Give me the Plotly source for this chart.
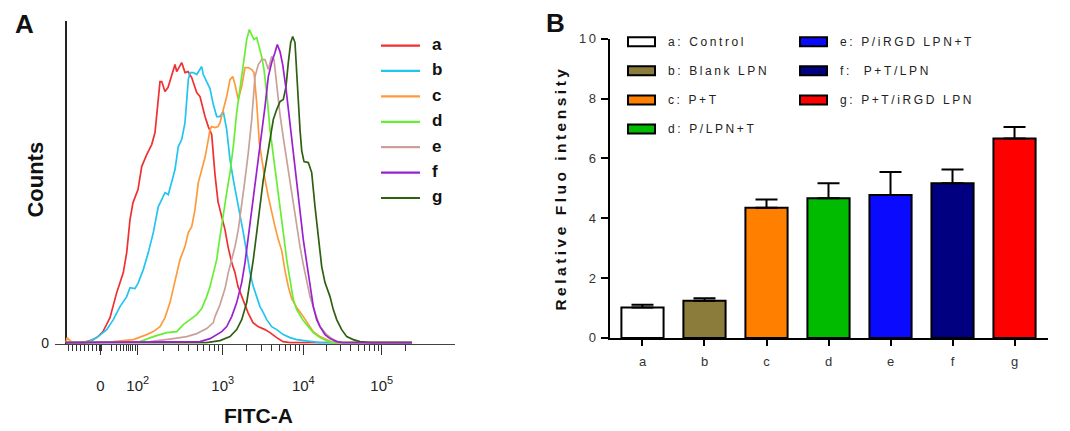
import math
import plotly.graph_objects as go

W, H = 1070, 431
# the page photograph shifts the figure 8px right and maps it a little
# squeezed vertically; these constants put things where the reference has them
OFF_X = 8
SY, OFF_Y = 0.965, 16

# ---------------- Panel A: flow cytometry histograms (x in display channels) ----------------
hist_names = ["a", "b", "c", "d", "e", "f", "g"]
hist_colors = ["#f03030", "#22c4f0", "#ff9a3c", "#66ee33", "#c9a19b", "#9a20d0", "#2f6010"]

a_x = [0, 17, 24, 27, 32, 37, 44, 50.7, 57.3, 60.7, 64, 67, 72, 75.7, 80.7, 85.7, 89, 92, 94, 95.7,
       99, 102, 105.7, 109, 110.7, 114, 115.7, 119, 122, 125.7, 130.7, 134, 139, 142.3, 145.7, 149,
       152, 155.7, 159, 162, 165.7, 169, 172, 177, 182, 187, 192, 199, 204, 210.7, 217, 224, 346]
a_y = [0, 0, 2, 3, 6, 11, 25, 50, 70, 90, 123, 140, 153, 176, 188, 198, 210, 243, 261, 261,
       251, 255, 268, 278, 271, 278, 280, 270, 271, 265, 250, 246, 226, 216, 208, 168,
       141, 126, 113, 96, 80, 70, 56, 43, 30, 20, 16, 13, 10, 5, 1, 0, 0]

b_x = [0, 20.7, 30.7, 40.7, 47.3, 54, 60.7, 64, 69, 72.3, 77.3, 82.3, 87.3, 92.3, 95.7, 99, 102.3,
       105.7, 109, 112.3, 115.7, 119, 120.7, 122.3, 124, 127.3, 130.7, 134, 135.7, 137.3, 140.7, 144,
       147.3, 150.7, 154, 157.3, 160.7, 164, 167.3, 170.7, 174, 177.3, 180.7, 184, 187.3, 190.7, 194,
       197.3, 200.7, 205.7, 210.7, 217.3, 224, 230.7, 240.7, 254, 346]
b_y = [0, 0, 5, 13, 23, 36, 46, 55, 54, 60, 73, 90, 110, 136, 143, 150, 148,
       160, 173, 196, 203, 220, 246, 263, 270, 270, 268, 273, 276, 268, 261, 254,
       238, 226, 226, 231, 213, 183, 163, 146, 130, 110, 90, 70, 56, 46, 36,
       30, 23, 16, 13, 8, 5, 3, 2, 0, 0]

c_x = [0, 1, 4, 7, 47, 67.3, 80.7, 87.3, 94, 99, 104, 109, 114, 119, 122.3, 125.7, 129, 132.3, 135.7,
       139, 142.3, 144, 145.7, 149, 152, 154, 157.3, 160.7, 164, 166.7, 169, 172.3, 175.7, 179, 182.3,
       185.7, 188, 190.7, 193.3, 195.7, 199, 202.3, 205.7, 209, 212.3, 215.7, 219, 222.3, 225.7, 230.7,
       237.3, 242.3, 247.3, 254, 260.7, 267, 346]
c_y = [0, 5, 2, 0, 1, 3, 8, 11, 16, 25, 40, 60, 83, 96, 110, 116, 133, 160, 172,
       185, 203, 213, 216, 215, 216, 220, 233, 246, 263, 266, 258, 243, 256, 275, 275,
       273, 270, 240, 200, 183, 163, 146, 130, 116, 103, 92, 72, 56, 44, 35,
       26, 18, 11, 6, 3, 0, 0]

d_x = [0, 74, 87.3, 100.7, 110.7, 117.3, 124, 130.7, 135.7, 140.7, 144, 147.3, 150.7, 154, 157.3,
       160.7, 164, 167.3, 170.7, 174, 177.3, 180.7, 183.3, 185.7, 188, 190.7, 193.3, 195.7, 198, 200.7,
       204, 207.3, 210.7, 214, 217.3, 220.7, 224, 227.3, 230.7, 234, 237.3, 242.3, 247.3, 254, 260.7,
       267, 346]
d_y = [0, 1, 6, 10, 11, 18, 23, 28, 34, 46, 56, 70, 83, 106, 130,
       150, 170, 196, 230, 256, 280, 303, 313, 308, 303, 305, 296, 286, 273, 250,
       213, 186, 163, 136, 110, 83, 63, 43, 33, 28, 22, 16, 10, 5, 2,
       0, 0]

e_x = [0, 84, 107.3, 120.7, 130.7, 140.7, 147.3, 149, 154, 159, 162.3, 165.7, 169, 172.3, 175.7, 179,
       182.3, 185.7, 189, 192.3, 195.7, 199, 202.3, 205.7, 208, 210.7, 214, 217.3, 220.7, 224, 227.3,
       230.7, 234, 237.3, 240.7, 244, 249, 254, 260.7, 267.3, 274, 346]
e_y = [0, 1, 4, 6, 9, 14, 20, 26, 38, 54, 70, 83, 96, 113, 136, 163,
       190, 223, 266, 278, 283, 283, 273, 286, 283, 256, 228, 205, 182, 160, 138,
       116, 96, 78, 63, 46, 30, 16, 8, 3, 0, 0]

f_x = [0, 134, 144, 150.7, 155.7, 160.7, 165.7, 170.7, 175.7, 179, 182.3, 185.7, 189, 192.3, 195.7,
       199, 202.3, 205.7, 209, 211.3, 214, 216.7, 220, 223.3, 227.3, 230.7, 234, 237.3, 240.7, 244,
       247.3, 250.7, 254, 259, 264, 270.7, 277, 346]
f_y = [0, 1, 4, 8, 11, 16, 26, 40, 60, 80, 106, 130, 153, 183, 210,
       236, 266, 280, 290, 298, 291, 278, 254, 226, 192, 160, 130, 103, 80, 56,
       36, 23, 16, 8, 4, 1, 0, 0]

g_x = [0, 140.7, 154, 164, 170.7, 175.7, 180.7, 184, 187.3, 190.7, 194, 197.3, 200.7, 204, 207.3,
       210.7, 214, 217.3, 220, 222.3, 224.7, 226.7, 229, 230.7, 232.3, 234, 235.7, 238, 242.3, 245.7,
       249, 252.3, 255.7, 259, 264, 267.3, 270.7, 275.7, 280.7, 287.3, 294, 304, 346]
g_y = [0, 0, 2, 6, 13, 23, 40, 60, 83, 110, 136, 163, 183, 203, 223,
       233, 241, 243, 256, 280, 300, 306, 300, 270, 236, 213, 192, 181, 180, 170,
       136, 103, 76, 60, 46, 33, 23, 13, 6, 3, 1, 0, 0]

hist_x = [a_x, b_x, c_x, d_x, e_x, f_x, g_x]
hist_y = [a_y, b_y, c_y, d_y, e_y, f_y, g_y]

# axis decades in display channels
decade_pos = [34.3, 71.7, 156.7, 237.3, 315.7]
decade_exp = [None, 2, 3, 4, 5]

# ---------------- Panel B: relative fluorescence bars ----------------
groups = ["a", "b", "c", "d", "e", "f", "g"]
group_labels = ["a: Control", "b: Blank LPN", "c: P+T", "d: P/LPN+T",
                "e: P/iRGD LPN+T", "f:  P+T/LPN", "g: P+T/iRGD LPN"]
fluo_mean = [1.02, 1.24, 4.35, 4.67, 4.78, 5.17, 6.67]
fluo_sd = [0.09, 0.09, 0.28, 0.50, 0.77, 0.46, 0.38]
bar_colors = ["#ffffff", "#8b7c3b", "#ff8000", "#00bb00", "#0a0aff", "#000080", "#ff0000"]


def px(x):
    return (x - OFF_X) / W


def py(y):
    return 1 - (y / SY - OFF_Y) / H


def spaced(txt, ls, size):
    return f'<span style="letter-spacing:{ls}px;font-size:{size}px">{txt}</span>'


def decade_label(e):
    if e is None:
        return "0"
    return f'10<sup><span style="font-size:11px">{e}</span></sup>'


FONT = "Arial, Liberation Sans, sans-serif"

fig = go.Figure()

# draw f last so that purple sits on top along the baseline
for i in [0, 1, 2, 3, 4, 6, 5]:
    fig.add_trace(go.Scatter(
        x=hist_x[i], y=hist_y[i], mode="lines",
        line=dict(color=hist_colors[i], width=1.7),
        name=hist_names[i], showlegend=False, hoverinfo="skip",
        xaxis="x", yaxis="y"))

for i, g in enumerate(groups):
    fig.add_trace(go.Bar(
        x=[g], y=[fluo_mean[i]], width=0.68, name=group_labels[i],
        marker=dict(color=bar_colors[i], line=dict(color="black", width=2)),
        error_y=dict(type="data", array=[fluo_sd[i]], arrayminus=[0], symmetric=False,
                     color="black", thickness=2, width=11),
        showlegend=False, xaxis="x2", yaxis="y2"))

# minor ticks of the biexponential axis
minor = [2, 6, 10, 14, 18, 22, 26, 30, 33.3, 35.3,
         45.7, 50, 54, 57, 60, 62, 64.7, 66.7, 69]
for p0, p1 in zip(decade_pos[1:-1], decade_pos[2:]):
    for k in range(2, 10):
        minor.append(p0 + math.log10(k) * (p1 - p0))
minor.append(decade_pos[-1] + math.log10(2) * 78.4)

# manual legends
shapes = []
annotations = []
for i, name in enumerate(hist_names):
    yc = 46 + i * 25.4
    shapes.append(dict(type="line", xref="paper", yref="paper",
                       x0=px(381), x1=px(420), y0=py(yc), y1=py(yc),
                       line=dict(color=hist_colors[i], width=2.2)))
    annotations.append(dict(text=name, xref="paper", yref="paper", x=px(430), y=py(yc - 1),
                            xanchor="left", yanchor="middle", showarrow=False,
                            font=dict(family=FONT, size=17, color="#111", weight="bold")))

for i, lab in enumerate(group_labels):
    col, row = (0, i) if i < 4 else (1, i - 4)
    x0 = 628 if col == 0 else 800
    yc = 42.3 + row * 29
    shapes.append(dict(type="rect", xref="paper", yref="paper",
                       x0=px(x0), x1=px(x0 + 27), y0=py(yc + 4.5), y1=py(yc - 4.5),
                       fillcolor=bar_colors[i], line=dict(color="black", width=2)))
    annotations.append(dict(text=spaced(lab, 2.6, 12), xref="paper", yref="paper",
                            x=px(x0 + 38), y=py(yc), xanchor="left", yanchor="middle",
                            showarrow=False, font=dict(family=FONT, size=12, color="#222")))

titles = [
    ("A", 24, 24, 26, 0),
    ("B", 555, 23, 26, 0),
    ("Counts", 36, 180, 22, -90),
    ("FITC-A", 258, 416, 21, 0),
]
for txt, x, y, s, ang in titles:
    annotations.append(dict(text=txt, xref="paper", yref="paper", x=px(x), y=py(y),
                            xanchor="center", yanchor="middle", showarrow=False, textangle=ang,
                            font=dict(family=FONT, size=s, color="#111", weight="bold")))
annotations.append(dict(text=spaced("Relative Fluo intensity", 3.5, 15.5), xref="paper", yref="paper",
                        x=px(561), y=py(189), xanchor="center", yanchor="middle",
                        showarrow=False, textangle=-90,
                        font=dict(family=FONT, size=15.5, color="#111", weight="bold")))

fig.update_layout(
    width=W, height=H, margin=dict(l=0, r=0, t=0, b=0),
    paper_bgcolor="white", plot_bgcolor="white",
    font=dict(family=FONT, color="#222"),
    barmode="overlay",
    shapes=shapes, annotations=annotations,
    xaxis=dict(domain=[px(55), px(455)], range=[-11, 389], anchor="y",
               showline=True, linecolor="#444", linewidth=1.2, showgrid=False,
               zeroline=True, zerolinecolor="#222", zerolinewidth=1.5,
               tickmode="array", tickvals=decade_pos,
               ticktext=[decade_label(e) for e in decade_exp],
               ticks="outside", ticklen=10, tickwidth=1.2, tickcolor="#333",
               tickfont=dict(size=15, color="#222"), ticklabelstandoff=18,
               minor=dict(tickmode="array", tickvals=minor, ticks="outside",
                          ticklen=6, tickwidth=1.1, tickcolor="#333", showgrid=False)),
    yaxis=dict(domain=[py(344), py(21)], range=[-1, 322], anchor="x",
               showline=False, showgrid=False, zeroline=False,
               tickmode="array", tickvals=[0], ticktext=["0"], ticks="",
               tickfont=dict(size=14, color="#222"), ticklabelstandoff=5),
    xaxis2=dict(domain=[px(610), px(1048)], anchor="y2", type="category",
                categoryorder="array", categoryarray=groups, range=[-0.524, 6.54],
                showline=True, linecolor="black", linewidth=2, showgrid=False,
                ticks="outside", ticklen=6, tickwidth=2, tickcolor="black",
                tickfont=dict(size=13, color="#333"), ticklabelstandoff=4),
    yaxis2=dict(domain=[py(338.3), py(39.3)], anchor="x2", range=[0, 10],
                showline=True, linecolor="black", linewidth=2, showgrid=False, zeroline=False,
                tickmode="array", tickvals=[0, 2, 4, 6, 8, 10],
                ticktext=[spaced(str(v), 2.5, 13) for v in [0, 2, 4, 6, 8, 10]],
                ticks="outside", ticklen=7, tickwidth=2, tickcolor="black",
                tickfont=dict(size=13, color="#333")),
)

fig.write_html("out.html")
